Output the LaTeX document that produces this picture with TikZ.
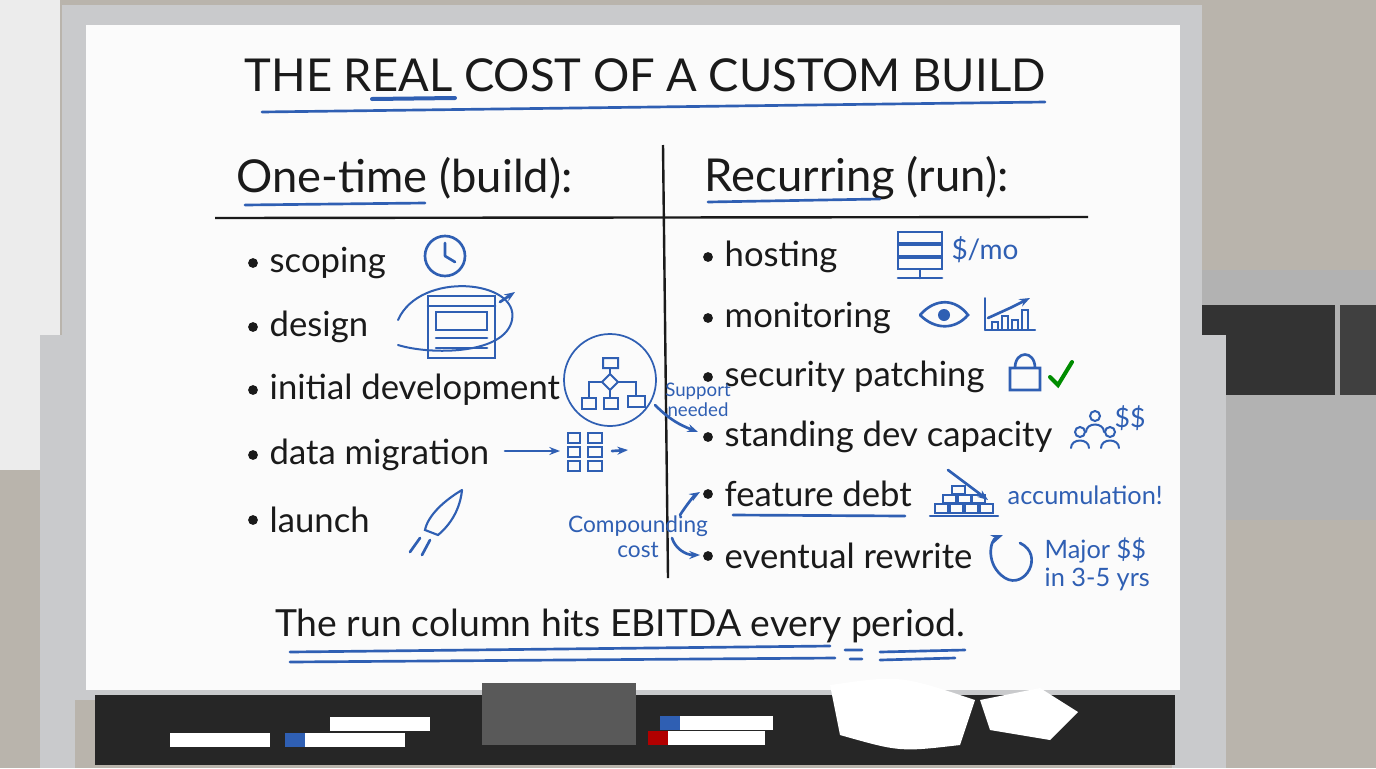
\documentclass[tikz,border=0pt]{standalone}
\usepackage{fontspec}
\setmainfont{Lato}
\usetikzlibrary{positioning,arrows.meta}
\definecolor{marker}{HTML}{2F5FB3}
\definecolor{ink}{HTML}{1A1A1A}
\definecolor{office}{HTML}{B9B4AC}
\definecolor{frame}{HTML}{C9CACC}
\tikzset{
  item/.style={anchor=west, text=ink, font=\fontsize{26}{28}\selectfont},
  head/.style={anchor=west, text=ink, font=\fontsize{34}{36}\selectfont},
  note/.style={text=marker, font=\fontsize{14}{15}\selectfont, align=center},
  blue/.style={draw=marker, line width=2pt, line cap=round},
  arr/.style={blue, -{Stealth[length=8pt]}},
  dot/.style={circle, fill=ink, inner sep=2.6pt}
}
\begin{document}
\begin{tikzpicture}[x=0.75pt, y=-0.75pt]
\useasboundingbox (0,0) rectangle (1376,768);
% background room
\fill[office] (0,0) rectangle (1376,768);
\fill[white!85!gray] (0,0) rectangle (60,470);
\fill[gray!60] (1180,270) rectangle (1376,520);
\fill[black!80] (1200,305) rectangle (1335,395);
\fill[black!75] (1340,305) rectangle (1376,395);
\fill[frame] (40,335) rectangle (75,768);
\fill[frame] (1172,335) rectangle (1226,768);
% board
\fill[frame] (62,5) rectangle (1202,700);
\fill[white!97!gray] (86,25) rectangle (1180,690);
\fill[black!85] (95,695) rectangle (1175,765);
% tray items
\fill[gray!70!black] (482,683) rectangle (636,745);
\fill[white] (830,685) .. controls (900,675) .. (975,700) -- (960,745) .. controls (900,752) .. (840,735) -- cycle;
\fill[white] (980,700) -- (1040,688) -- (1078,712) -- (1050,740) -- (990,730) -- cycle;
\fill[white] (170,733) rectangle (270,747);
\fill[white] (330,717) rectangle (430,731);
\fill[marker] (285,733) rectangle (305,747); \fill[white] (305,733) rectangle (405,747);
\fill[marker] (660,716) rectangle (680,730); \fill[white] (680,716) rectangle (773,730);
\fill[red!70!black] (648,731) rectangle (668,745); \fill[white] (668,731) rectangle (765,745);
% title
\node[text=ink, font=\fontsize{34}{36}\selectfont] (title) at (645,75) {THE REAL COST OF A CUSTOM BUILD};
\draw[blue] (262,112) -- (1045,102);
\draw[blue, line width=3pt] (372,99) -- (455,98);
% grid lines
\draw[ink, line width=1.8pt] (663,145) -- (668,578);
\draw[ink, line width=1.8pt] (215,218) -- (1088,217);
% headers
\node[head] (hbuild) at (232,178) {One-time (build):};
\node[head] (hrun) at (700,178) {Recurring (run):};
\draw[blue] (245,205) -- (425,203);
\draw[blue] (708,202) -- (880,199);
% one-time items
\foreach \y/\t/\n in {263/scoping/scope, 327/design/design, 390/initial development/dev, 455/data migration/mig, 520/launch/launch}{
  \node[dot] (d\n) at (253,\y) {};
  \node[item] (\n) at (265,\y) {\t};
}
% recurring items
\foreach \y/\t/\n in {257/hosting/host, 318/monitoring/mon, 377/security patching/sec, 437/standing dev capacity/cap, 494/feature debt/debt, 556/eventual rewrite/rew}{
  \node[dot] (d\n) at (708,\y) {};
  \node[item] (\n) at (720,\y) {\t};
}
\draw[blue] (733,515) -- (905,516);
% icons left
\draw[blue] (445,256) circle (20); \draw[blue] (445,256) -- (445,243) (445,256) -- (455,262);
\draw[blue, line width=1.5pt] (398,320) .. controls (420,270) and (520,280) .. (512,320) .. controls (505,355) and (430,355) .. (398,345);
\draw[blue] (428,296) rectangle (495,358) (428,306) -- (495,306) (436,312) rectangle (487,330);
\draw[blue] (436,338) -- (487,338) (436,348) -- (487,348);
\draw[arr] (500,302) -- (515,292);
\draw[blue, line width=1.3pt] (610,380) circle (46);
\draw[blue, line width=1.5pt] (603,358) rectangle (618,368) (610,374) -- (618,382) -- (610,390) -- (602,382) -- cycle;
\draw[blue, line width=1.2pt] (610,368) -- (610,374) (602,382) -- (589,382) -- (589,398) (618,382) -- (636,382) -- (636,396) (610,390) -- (610,398);
\draw[blue, line width=1.5pt] (582,398) rectangle (596,409) (604,398) rectangle (618,409) (628,396) rectangle (645,407);
\draw[arr] (505,451) -- (560,451);
\foreach \yy in {438,452,466}{\draw[blue, line width=1.5pt] (568,\yy-5) rectangle (580,\yy+5) (588,\yy-5) rectangle (602,\yy+5);}
\draw[arr] (612,451) -- (628,450);
\draw[blue, line width=1.6pt] (462,490) .. controls (445,500) and (428,515) .. (425,530) -- (438,535) .. controls (450,525) and (460,510) .. (462,490);
\draw[blue] (420,538) -- (410,552) (430,540) -- (422,555);
% icons right
\foreach \yy in {232,245,258}{\draw[blue, line width=1.6pt] (898,\yy) rectangle (942,\yy+11);}
\draw[blue] (920,270) -- (920,278) (898,278) -- (942,278);
\node[note, font=\fontsize{21}{22}\selectfont] (permo) at (985,250) {\$/mo};
\draw[blue] (920,315) .. controls (935,298) and (955,298) .. (968,315) .. controls (955,330) and (935,330) .. (920,315);
\fill[marker] (944,315) circle (6);
\draw[blue, line width=1.5pt] (985,330) -- (1035,330) (985,330) -- (985,298);
\foreach \xx/\hh in {992/8,1002/14,1012/10,1022/20}{\draw[blue, line width=1.5pt] (\xx,330) rectangle (\xx+6,330-\hh);}
\draw[arr] (988,318) -- (1010,308) -- (1030,298);
\draw[blue] (1010,368) rectangle (1040,390) (1015,368) .. controls (1015,350) and (1035,350) .. (1035,368);
\draw[draw=green!55!black, line width=3pt, line cap=round] (1050,377) -- (1058,385) -- (1072,362);
\foreach \xx/\yy in {1080/440,1110/440,1095/424}{\draw[blue, line width=1.5pt] (\xx,\yy-8) circle (5) (\xx-9,\yy+8) .. controls (\xx-9,\yy-2) and (\xx+9,\yy-2) .. (\xx+9,\yy+8);}
\node[note, font=\fontsize{20}{22}\selectfont] (dd) at (1130,418) {\$\$};
\draw[blue, line width=1.6pt] (930,516) -- (998,516);
\foreach \xx in {935,950,965,980}{\draw[blue, line width=1.3pt] (\xx,504) rectangle (\xx+13,513);}
\foreach \xx in {943,958,972}{\draw[blue, line width=1.3pt] (\xx,495) rectangle (\xx+13,503);}
\draw[blue, line width=1.3pt] (952,486) rectangle (965,494);
\draw[arr] (948,470) -- (988,500);
\node[note, anchor=west, font=\fontsize{19}{20}\selectfont] (acc) at (1003,495) {accumulation!};
\draw[blue, -{Stealth[length=9pt]}] (1020,543) .. controls (1045,555) and (1025,590) .. (1005,578) .. controls (985,565) and (990,540) .. (1003,535);
\node[note, anchor=west, align=left, font=\fontsize{19}{21}\selectfont] (major) at (1040,564) {Major \$\$\\in 3-5 yrs};
% cross notes
\node[note] (support) at (698,400) {Support\\needed};
\draw[arr] (655,405) .. controls (670,420) and (680,425) .. (698,432);
\node[note, font=\fontsize{17}{19}\selectfont] (compound) at (638,537) {Compounding\\cost};
\draw[arr] (680,515) .. controls (690,500) and (695,495) .. (700,492);
\draw[arr] (672,538) .. controls (675,548) and (685,555) .. (700,555);
% bottom line
\node[text=ink, font=\fontsize{28}{30}\selectfont] (bottom) at (620,626) {The run column hits EBITDA every period.};
\draw[blue] (290,652) -- (830,646) (845,650) -- (862,650) (880,652) -- (965,650);
\draw[blue] (290,662) -- (835,658) (850,659) -- (862,659) (880,660) -- (955,658);
\end{tikzpicture}
\end{document}
